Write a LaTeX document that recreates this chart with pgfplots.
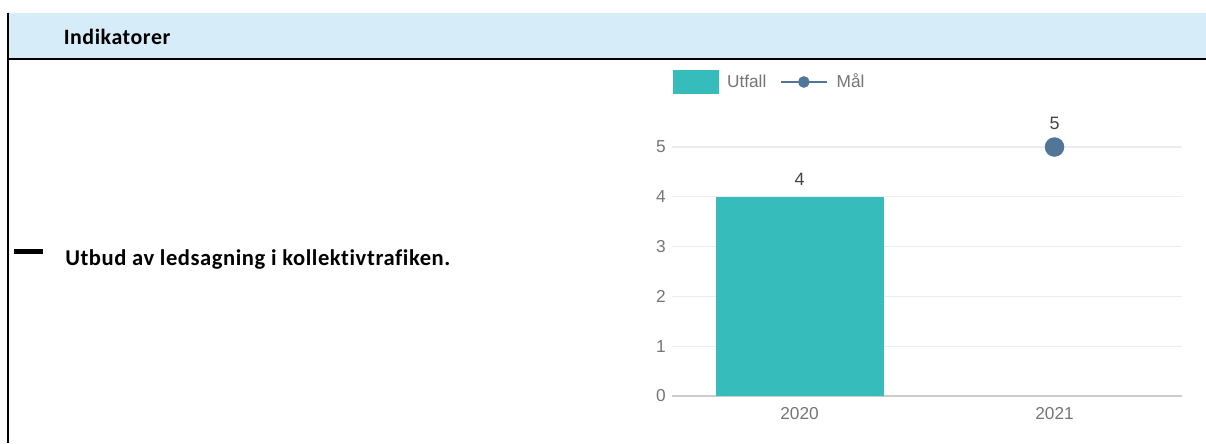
\documentclass[border=0pt]{standalone}
\usepackage{fontspec}
\setmainfont{Carlito}[Ligatures=NoCommon]
\newfontfamily\headfont{Carlito}[Ligatures=NoCommon,LetterSpace=2.5]
\newfontfamily\chartfont{Liberation Sans}
\usepackage{pgfplots}
\pgfplotsset{compat=1.18}
\definecolor{headblue}{RGB}{214,236,248}
\definecolor{utfall}{RGB}{55,188,188}
\definecolor{mal}{RGB}{82,118,152}
\definecolor{tickgray}{RGB}{117,117,117}
\definecolor{labgray}{RGB}{68,68,68}
\definecolor{gridgray}{RGB}{235,237,240}
\definecolor{basegray}{RGB}{204,204,204}
\begin{document}
\begin{tikzpicture}
\begin{scope}[x=0.75bp,y=-0.75bp]
\useasboundingbox (0,0) rectangle (1206,443);
\fill[headblue] (8,13) rectangle (1206,58);
\draw[black,line width=1.9bp] (8,58.8) -- (1206,58.8);
\draw[black,line width=1.5bp] (8.3,12.5) -- (8.3,443);
\fill[black] (14,248.5) rectangle (43,253.8);
\node[anchor=base west,inner sep=0pt,font=\headfont\bfseries\fontsize{16.5}{18}\selectfont] at (63.5,44) {Indikatorer};
\node[anchor=base west,inner sep=0pt,font=\headfont\bfseries\fontsize{17}{19}\selectfont] at (65,265) {Utbud av ledsagning i kollektivtrafiken.};
\end{scope}
\begin{axis}[
  at={(504bp,-297bp)}, anchor=south west,
  scale only axis, width=382.5bp, height=224.1bp,
  xmin=-0.5, xmax=1.5, ymin=0, ymax=6,
  xtick={0,1}, xticklabels={2020,2021},
  ytick={0,1,2,3,4,5},
  /pgf/number format/assume math mode=true,
  axis line style={draw=none}, major tick length=0pt,
  ymajorgrids, grid style={color=gridgray, line width=0.9bp},
  tick label style={font=\chartfont\fontsize{13}{15}\selectfont, text=tickgray},
  yticklabel style={anchor=east, inner sep=0pt, xshift=-4.5bp},
  xticklabel style={anchor=north, inner sep=0pt, yshift=-8bp},
  legend style={at={(rel axis cs:0.002,1.051)}, anchor=west, draw=none, fill=none,
    inner sep=0pt, outer sep=0pt, legend columns=-1,
    font=\chartfont\fontsize{13}{15}\selectfont, text=tickgray,
    nodes={inner sep=0pt},
    /tikz/every odd column/.append style={column sep=6bp},
    /tikz/every even column/.append style={column sep=9.5bp}},
  clip=false,
]
\draw[basegray, line width=1.6bp] (rel axis cs:0,0) -- (rel axis cs:1,0);
\addplot[ybar, bar width=126bp, fill=utfall, draw=none,
  nodes near coords, every node near coord/.append style={font=\chartfont\fontsize{13.5}{15}\selectfont, text=labgray, anchor=south, inner sep=0pt, yshift=8bp},
  legend image code/.code={\fill[utfall] (0bp,-9bp) rectangle (34.5bp,9bp);}]
  coordinates {(0,4)};
\addlegendentry{Utfall}
\addplot[mal, line width=2.2bp, mark=*, mark size=6.2bp, mark options={fill=mal, draw=mal},
  nodes near coords, every node near coord/.append style={font=\chartfont\fontsize{13.5}{15}\selectfont, text=labgray, anchor=south, inner sep=0pt, yshift=12bp},
  legend image code/.code={\draw[mal, line width=2.2bp] (0bp,0bp) -- (35bp,0bp); \fill[mal] (17.5bp,0bp) circle (3.2bp);}]
  coordinates {(1,5)};
\addlegendentry{Mål}
\end{axis}
\end{tikzpicture}
\end{document}
